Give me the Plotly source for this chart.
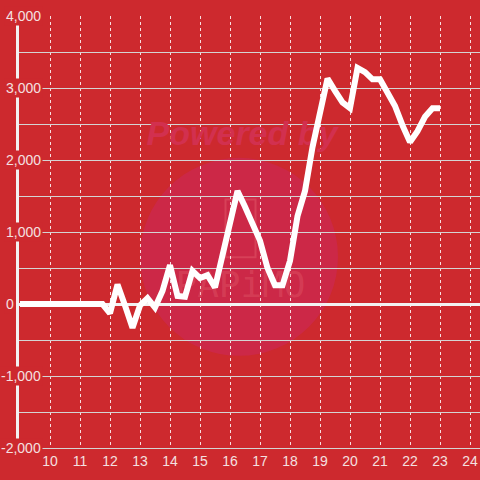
import plotly.graph_objects as go

# time of day (hours) and value
hours = [9.0, 9.25, 9.5, 9.75, 10.0, 10.25, 10.5, 10.75, 11.0, 11.25, 11.5, 11.75,
         12.0, 12.25, 12.5, 12.75, 13.0, 13.25, 13.5, 13.75, 14.0, 14.25, 14.5, 14.75,
         15.0, 15.25, 15.5, 15.75, 16.0, 16.25, 16.5, 16.75, 17.0, 17.25, 17.5, 17.75,
         18.0, 18.25, 18.5, 18.75, 19.0, 19.25, 19.5, 19.75, 20.0, 20.25, 20.5, 20.75,
         21.0, 21.25, 21.5, 21.75, 22.0, 22.25, 22.5, 22.75, 23.0]
values = [0, 0, 0, 0, 0, 0, 0, 0, 0, 0, 0, 0,
          -130, 270, -20, -330, -20, 80, -50, 180, 540, 110, 100, 460,
          360, 400, 230, 680, 1120, 1570, 1350, 1100, 880, 500, 260, 260,
          600, 1220, 1570, 2180, 2700, 3130, 2960, 2800, 2720, 3280, 3220, 3120,
          3120, 2950, 2750, 2480, 2250, 2400, 2600, 2720, 2720]

x_ticks = list(range(10, 25))
y_labels = [4000, 3000, 2000, 1000, 0, -1000, -2000]

BG = "#cd292e"
LABEL = "#f4e0e0"

L, T = 19, 16
PLOT_W = 480 - L

fig = go.Figure()

# faint watermark, drawn under the data line
fig.add_shape(type="circle", xref="x", yref="y", x0=13.0, x1=19.6, y0=-720, y1=2030,
              fillcolor="#cc2847", line=dict(width=0), layer="below")
fig.add_shape(type="rect", xref="x", yref="y", x0=15.85, x1=16.85, y0=650, y1=1450,
              line=dict(color="rgba(235,110,120,0.35)", width=2), fillcolor="rgba(0,0,0,0)",
              layer="below")
fig.add_trace(go.Scatter(x=[16.4], y=[2330], mode="text", text=["<b><i>Powered by</i></b>"],
                         textfont=dict(family="Liberation Sans, Arial", size=34, color="#d2304f"),
                         hoverinfo="skip"))
fig.add_trace(go.Scatter(x=[16.35], y=[220], mode="text", text=["PAPiMO"],
                         textfont=dict(family="DejaVu Sans Mono", size=36,
                                       color="rgba(235,110,120,0.3)"),
                         hoverinfo="skip"))

fig.add_trace(go.Scatter(x=hours, y=values, mode="lines",
                         line=dict(color="white", width=6), hoverinfo="skip"))

# y tick labels drawn over the axis with a background patch
for v in y_labels:
    px = 16 if v == 0 else 43
    fig.add_annotation(xref="paper", yref="y", x=(px - L) / PLOT_W, y=v,
                       text=f"{v:,}", showarrow=False, xanchor="right",
                       font=dict(family="Liberation Sans, Arial", size=14, color=LABEL),
                       bgcolor=BG, borderpad=1)

fig.update_layout(
    width=480, height=480,
    margin=dict(l=L, r=0, t=T, b=32),
    paper_bgcolor=BG, plot_bgcolor=BG,
    showlegend=False,
    xaxis=dict(range=[10 - 31 / 30, 24.3333], tickvals=x_ticks,
               showgrid=True, gridcolor="rgba(255,255,255,0.85)", griddash="dot", gridwidth=1,
               zeroline=False, showline=True, linecolor="#d4d4d4", linewidth=1,
               ticks="", tickfont=dict(family="Liberation Sans, Arial", size=14, color=LABEL)),
    yaxis=dict(range=[-2000, 4000], dtick=500, showticklabels=False,
               showgrid=True, gridcolor="#d4d4d4", gridwidth=1,
               zeroline=True, zerolinecolor="#f2f2f2", zerolinewidth=3,
               showline=True, linecolor="#f2f2f2", linewidth=3),
)

# drop the default page margin so the 480px figure fills the window
fig.write_html("out.html", config={"displayModeBar": False},
               post_script="document.body.style.margin = '0';")
